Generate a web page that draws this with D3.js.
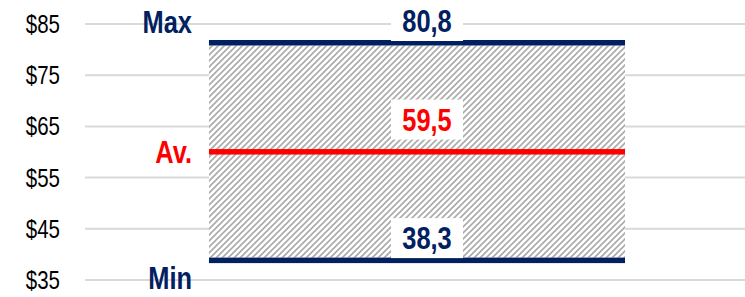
<!DOCTYPE html>
<html>
<head>
<meta charset="utf-8">
<script src="https://cdn.jsdelivr.net/npm/d3@7"></script>
<style>
  body { margin: 0; background: #fff; }
  svg { display: block; }
  text { font-family: "Liberation Sans", Arial, sans-serif; }
</style>
</head>
<body>
<div id="chart"></div>
<script>
const categories = ['Price'];
const maxValues = [80.8];
const avgValues = [59.5];
const minValues = [38.3];
const yTicks = [35, 45, 55, 65, 75, 85];
const markerLabels = ['Max', 'Av.', 'Min'];

const width = 745, height = 297;
const navy = '#002060', red = '#ff0000';
const narrow = 0.82; // squeeze Liberation Sans to look like Arial Narrow

const svg = d3.select('#chart').append('svg')
  .attr('width', width).attr('height', height);

const y = d3.scaleLinear().domain([35, 85]).range([280, 24]);
const x = d3.scaleBand().domain(categories).range([85, 749])
  .paddingInner(0).paddingOuter(0.298);

// upward diagonal hatch
const pat = svg.append('defs').append('pattern')
  .attr('id', 'hatch').attr('patternUnits', 'userSpaceOnUse')
  .attr('width', 6).attr('height', 6);
pat.append('rect').attr('width', 6).attr('height', 6).attr('fill', '#fff');
pat.append('path')
  .attr('d', 'M-1,1 L1,-1 M0,6 L6,0 M5,7 L7,5')
  .attr('stroke', '#aaaaaa').attr('stroke-width', 1.6);

function label(g, xPos, yPos) {
  return g.append('text')
    .attr('transform', `translate(${xPos},${yPos}) scale(${narrow},1)`)
    .attr('dy', '0.36em');
}

// grid
svg.append('g').selectAll('line').data(yTicks).join('line')
  .attr('x1', 85).attr('x2', 745)
  .attr('y1', d => y(d)).attr('y2', d => y(d))
  .attr('stroke', '#d9d9d9').attr('stroke-width', 2);

// tick labels
const tickG = svg.append('g');
yTicks.forEach(t => {
  label(tickG, 60, y(t))
    .attr('text-anchor', 'end').attr('font-size', 25).attr('fill', '#000')
    .text('$' + t);
});

const lineH = 5.5;
const fmt = v => d3.format('.1f')(v).replace('.', ',');

categories.forEach((c, i) => {
  const x0 = x(c), bw = x.bandwidth();
  svg.append('rect')
    .attr('x', x0).attr('width', bw)
    .attr('y', y(maxValues[i])).attr('height', y(minValues[i]) - lineH - y(maxValues[i]))
    .attr('fill', 'url(#hatch)');

  [[maxValues[i], navy], [avgValues[i], red], [minValues[i], navy]].forEach(([v, col]) => {
    svg.append('rect')
      .attr('x', x0).attr('width', bw)
      .attr('y', y(v) - lineH).attr('height', lineH)
      .attr('fill', col);
  });

  // value labels with white boxes
  const cx = 427;
  const vals = [
    { v: maxValues[i], col: navy, cy: y(85) - 3 },
    { v: avgValues[i], col: red, cy: y(avgValues[i]) - 35 },
    { v: minValues[i], col: navy, cy: y(minValues[i]) - 25 }
  ];
  const vg = svg.append('g');
  vals.forEach(d => {
    vg.append('rect')
      .attr('x', cx - 36).attr('width', 72)
      .attr('y', d.cy - 20).attr('height', 40)
      .attr('fill', '#fff');
    label(vg, cx, d.cy)
      .attr('text-anchor', 'middle').attr('font-size', 31).attr('font-weight', 'bold')
      .attr('fill', d.col).text(fmt(d.v));
  });
});

// marker labels
const markerY = [y(85) - 2, y(avgValues[0]) - 3, y(35) - 2];
const markerCol = [navy, red, navy];
const mg = svg.append('g');
markerLabels.forEach((m, i) => {
  label(mg, 192, markerY[i])
    .attr('text-anchor', 'end').attr('font-size', 31).attr('font-weight', 'bold')
    .attr('fill', markerCol[i]).text(m);
});
</script>
</body>
</html>
